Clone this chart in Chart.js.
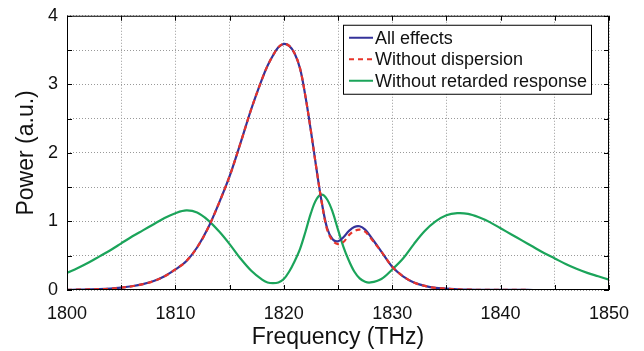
<!DOCTYPE html>
<html>
<head>
<meta charset="utf-8">
<script src="https://cdn.jsdelivr.net/npm/chart.js@4.4.1/dist/chart.umd.min.js"></script>
<style>
  html, body { margin: 0; padding: 0; background: #fff; }
  #wrap { width: 644px; height: 351px; }
</style>
</head>
<body>
<div id="wrap"><canvas id="powerChart" width="644" height="351"></canvas></div>
<script>
// frequency samples (THz)
const freq = [1800, 1801, 1802, 1803, 1804, 1805, 1806, 1807, 1808, 1809, 1810, 1811, 1812, 1813, 1814, 1815, 1816, 1817, 1818,
    1818.5, 1819, 1819.5, 1820, 1820.5, 1821, 1821.5, 1822, 1822.5, 1823, 1823.5, 1824, 1824.5, 1825, 1825.5,
    1826, 1826.5, 1827, 1827.5, 1828,
    1829, 1830, 1831, 1832, 1833, 1834, 1835, 1836, 1837, 1838, 1839, 1840, 1841, 1842, 1843, 1844, 1845, 1846,
    1847, 1848, 1849, 1850];

const allEffects = [0.003, 0.005, 0.008, 0.012, 0.02, 0.035, 0.055, 0.085, 0.13, 0.2, 0.3, 0.42, 0.62, 0.9, 1.26, 1.66, 2.14, 2.64, 3.08,
    3.27, 3.42, 3.54, 3.59, 3.56, 3.45, 3.23, 2.82, 2.32, 1.78, 1.28, 0.9, 0.74, 0.71, 0.77,
    0.86, 0.92, 0.93, 0.88, 0.78,
    0.56, 0.34, 0.2, 0.11, 0.06, 0.03, 0.02, 0.01, 0.005, 0.003, 0.002, 0.001, 0.001, 0.001, 0, 0, 0, 0,
    0, 0, 0, 0];

const noDispersion = [0.003, 0.005, 0.008, 0.012, 0.02, 0.035, 0.055, 0.085, 0.13, 0.2, 0.3, 0.42, 0.62, 0.9, 1.26, 1.66, 2.14, 2.64, 3.08,
    3.27, 3.42, 3.54, 3.59, 3.56, 3.45, 3.23, 2.82, 2.32, 1.78, 1.28, 0.88, 0.72, 0.67, 0.7,
    0.8, 0.86, 0.88, 0.85, 0.76,
    0.56, 0.34, 0.2, 0.11, 0.06, 0.03, 0.02, 0.01, 0.005, 0.003, 0.002, 0.001, 0.001, 0.001, 0, 0, 0, 0,
    0, 0, 0, 0];

const noRetarded = [0.25, 0.32, 0.4, 0.49, 0.58, 0.68, 0.78, 0.87, 0.96, 1.05, 1.12, 1.16, 1.13, 1.02, 0.86, 0.67, 0.46, 0.28, 0.15,
    0.11, 0.1, 0.11, 0.16, 0.27, 0.42, 0.6, 0.85, 1.12, 1.32, 1.39, 1.32, 1.14, 0.88, 0.63,
    0.43, 0.27, 0.17, 0.12, 0.11,
    0.16, 0.3, 0.46, 0.67, 0.86, 1.0, 1.09, 1.12, 1.11, 1.06, 0.99, 0.9, 0.81, 0.72, 0.63, 0.54, 0.46, 0.38,
    0.31, 0.25, 0.2, 0.15];

const seriesLabels = ['All effects', 'Without dispersion', 'Without retarded response'];

function toPoints(values) {
    return freq.map((f, i) => ({ x: f, y: values[i] }));
}

const FONT = '"Liberation Sans", Arial, Helvetica, sans-serif';

// box around plot area with inward ticks, like the original figure
const framePlugin = {
    id: 'frame',
    afterDatasetsDraw(chart) {
        const { ctx, chartArea: a, scales } = chart;
        ctx.save();
        ctx.strokeStyle = '#000';
        ctx.lineWidth = 1;
        ctx.strokeRect(a.left + 0.5, a.top + 0.5, a.right - a.left - 1, a.bottom - a.top - 1);
        ctx.beginPath();
        scales.x.ticks.forEach(t => {
            const px = Math.round(scales.x.getPixelForValue(t.value)) + 0.5;
            ctx.moveTo(px, a.bottom); ctx.lineTo(px, a.bottom - 5);
            ctx.moveTo(px, a.top); ctx.lineTo(px, a.top + 5);
        });
        scales.y.ticks.forEach(t => {
            const py = Math.round(scales.y.getPixelForValue(t.value)) + 0.5;
            ctx.moveTo(a.left, py); ctx.lineTo(a.left + 5, py);
            ctx.moveTo(a.right, py); ctx.lineTo(a.right - 5, py);
        });
        ctx.stroke();
        ctx.restore();
    }
};

// boxed legend in the top right corner of the plot
const boxLegend = {
    id: 'boxLegend',
    afterDraw(chart) {
        const { ctx, chartArea: a } = chart;
        const w = 248, h = 69;
        const x0 = a.right - 18 - w, y0 = a.top + 9;
        ctx.save();
        ctx.fillStyle = '#fff';
        ctx.fillRect(x0, y0, w, h);
        ctx.strokeStyle = '#000';
        ctx.lineWidth = 1;
        ctx.strokeRect(x0 + 0.5, y0 + 0.5, w, h);
        ctx.font = '18px ' + FONT;
        ctx.textBaseline = 'middle';
        chart.data.datasets.forEach((ds, i) => {
            const cy = y0 + 13 + i * 21.5;
            ctx.strokeStyle = ds.borderColor;
            ctx.lineWidth = 2;
            ctx.setLineDash(ds.borderDash || []);
            ctx.beginPath();
            ctx.moveTo(x0 + 6, cy);
            ctx.lineTo(x0 + 30, cy);
            ctx.stroke();
            ctx.setLineDash([]);
            ctx.fillStyle = '#111';
            ctx.fillText(ds.label, x0 + 32, cy + 1);
        });
        ctx.restore();
    }
};

const ctx = document.getElementById('powerChart').getContext('2d');
new Chart(ctx, {
    type: 'line',
    data: {
        datasets: [
            {
                label: seriesLabels[0],
                data: toPoints(allEffects),
                borderColor: '#35339a',
                borderWidth: 2.2,
                pointRadius: 0,
                tension: 0.35,
                order: 2
            },
            {
                label: seriesLabels[1],
                data: toPoints(noDispersion),
                borderColor: '#e8342a',
                borderWidth: 2.2,
                borderDash: [5, 4],
                pointRadius: 0,
                tension: 0.35,
                order: 1
            },
            {
                label: seriesLabels[2],
                data: toPoints(noRetarded),
                borderColor: '#1ba45a',
                borderWidth: 2.2,
                pointRadius: 0,
                tension: 0.35,
                order: 3
            }
        ]
    },
    options: {
        responsive: false,
        animation: false,
        layout: { padding: { left: 0, right: 35, top: 0, bottom: 0 } },
        plugins: {
            legend: { display: false },
            tooltip: { enabled: false }
        },
        scales: {
            x: {
                type: 'linear',
                min: 1800,
                max: 1850,
                afterFit: s => { s.height = 61; },
                ticks: {
                    stepSize: 5,
                    autoSkip: false,
                    maxRotation: 0,
                    color: '#111',
                    font: { family: FONT, size: 18 },
                    padding: 13,
                    callback: v => (v % 10 === 0 ? String(v) : '')
                },
                grid: { color: '#999', drawTicks: false, lineWidth: 1 },
                border: { display: false, dash: [1, 2] },
                title: {
                    display: true,
                    text: 'Frequency (THz)',
                    color: '#111',
                    font: { family: FONT, size: 23 },
                    padding: { top: 0, bottom: 0 }
                }
            },
            y: {
                min: 0,
                max: 4,
                afterFit: s => { s.width = 67; },
                ticks: {
                    stepSize: 0.5,
                    autoSkip: false,
                    color: '#111',
                    font: { family: FONT, size: 18, lineHeight: 0.75 },
                    padding: 9,
                    callback: v => (Number.isInteger(v) ? String(v) : '')
                },
                grid: { color: '#999', drawTicks: false, lineWidth: 1 },
                border: { display: false, dash: [1, 2] },
                title: {
                    display: true,
                    text: 'Power (a.u.)',
                    color: '#111',
                    font: { family: FONT, size: 23 },
                    padding: { top: 13, bottom: 0 }
                }
            }
        }
    },
    plugins: [framePlugin, boxLegend]
});
</script>
</body>
</html>
